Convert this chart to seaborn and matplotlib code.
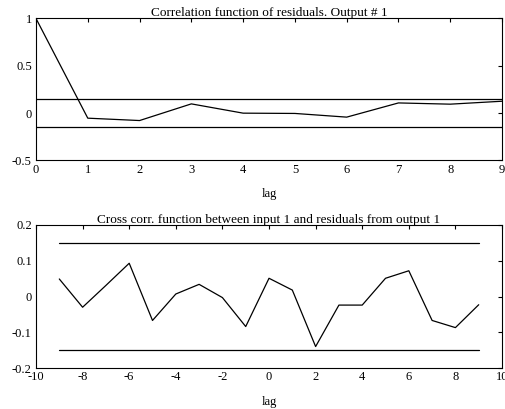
import matplotlib
matplotlib.use("Agg")
import matplotlib.pyplot as plt
import pandas as pd
import seaborn as sns

# residual autocorrelation, output 1
lags_auto = [0, 1, 2, 3, 4, 5, 6, 7, 8, 9]
corr_auto = [1.0, -0.053, -0.078, 0.098, 0.0, -0.003, -0.042, 0.108, 0.095, 0.126]

# cross correlation input 1 / residuals output 1
lags_cross = [-9, -8, -7, -6, -5, -4, -3, -2, -1, 0, 1, 2, 3, 4, 5, 6, 7, 8, 9]
corr_cross = [0.049, -0.030, 0.031, 0.093, -0.067, 0.007, 0.034, -0.003, -0.084, 0.051,
              0.018, -0.140, -0.024, -0.024, 0.051, 0.072, -0.067, -0.087, -0.023]

conf = 0.15

df_auto = pd.DataFrame({"lag": lags_auto, "corr": corr_auto})
df_cross = pd.DataFrame({"lag": lags_cross, "corr": corr_cross})

sns.set_theme(style="white")
plt.rcParams["font.family"] = ["Liberation Serif", "DejaVu Serif"]
plt.rcParams.update({
    "font.size": 9,
    "xtick.labelsize": 9, "ytick.labelsize": 9, "axes.labelsize": 9,
    "xtick.direction": "in", "ytick.direction": "in",
    "xtick.top": True, "ytick.right": True,
    "xtick.major.size": 3, "ytick.major.size": 3,
    "xtick.major.width": 0.8, "ytick.major.width": 0.8,
    "xtick.major.pad": 2.5, "ytick.major.pad": 3,
    "axes.edgecolor": "black", "axes.linewidth": 0.8,
    "xtick.color": "black", "ytick.color": "black",
    "text.color": "black", "axes.labelcolor": "black",
})

fig = plt.figure(figsize=(5.05, 4.09), dpi=100)
ax1 = fig.add_axes([0.0713, 0.6076, 0.9228, 0.3472])
ax2 = fig.add_axes([0.0713, 0.1002, 0.9228, 0.3497])

sns.lineplot(data=df_auto, x="lag", y="corr", ax=ax1, color="black", linewidth=0.9)
ax1.plot([lags_auto[0], lags_auto[-1]], [conf, conf], color="black", linewidth=0.9)
ax1.plot([lags_auto[0], lags_auto[-1]], [-conf, -conf], color="black", linewidth=0.9)
ax1.set_xlim(0, 9)
ax1.set_ylim(-0.5, 1)
ax1.set_xticks(range(0, 10))
ax1.set_yticks([-0.5, 0, 0.5, 1])
ax1.set_yticklabels(["-0.5", "0", "0.5", "1"])
ax1.set_xlabel("lag", labelpad=9)
ax1.set_ylabel("")
ax1.set_title("Correlation function of residuals. Output # 1", fontsize=9.5, pad=1.5)

sns.lineplot(data=df_cross, x="lag", y="corr", ax=ax2, color="black", linewidth=0.9)
ax2.plot([lags_cross[0], lags_cross[-1]], [conf, conf], color="black", linewidth=0.9)
ax2.plot([lags_cross[0], lags_cross[-1]], [-conf, -conf], color="black", linewidth=0.9)
ax2.set_xlim(-10, 10)
ax2.set_ylim(-0.2, 0.2)
ax2.set_xticks(range(-10, 11, 2))
ax2.set_xticklabels([str(v) for v in range(-10, 11, 2)])
ax2.set_yticks([-0.2, -0.1, 0, 0.1, 0.2])
ax2.set_yticklabels(["-0.2", "-0.1", "0", "0.1", "0.2"])
ax2.set_xlabel("lag", labelpad=9)
ax2.set_ylabel("")
ax2.set_title("Cross corr. function between input 1 and residuals from output 1", fontsize=9.5, pad=1.5)

fig.savefig("out.png", dpi=100)
